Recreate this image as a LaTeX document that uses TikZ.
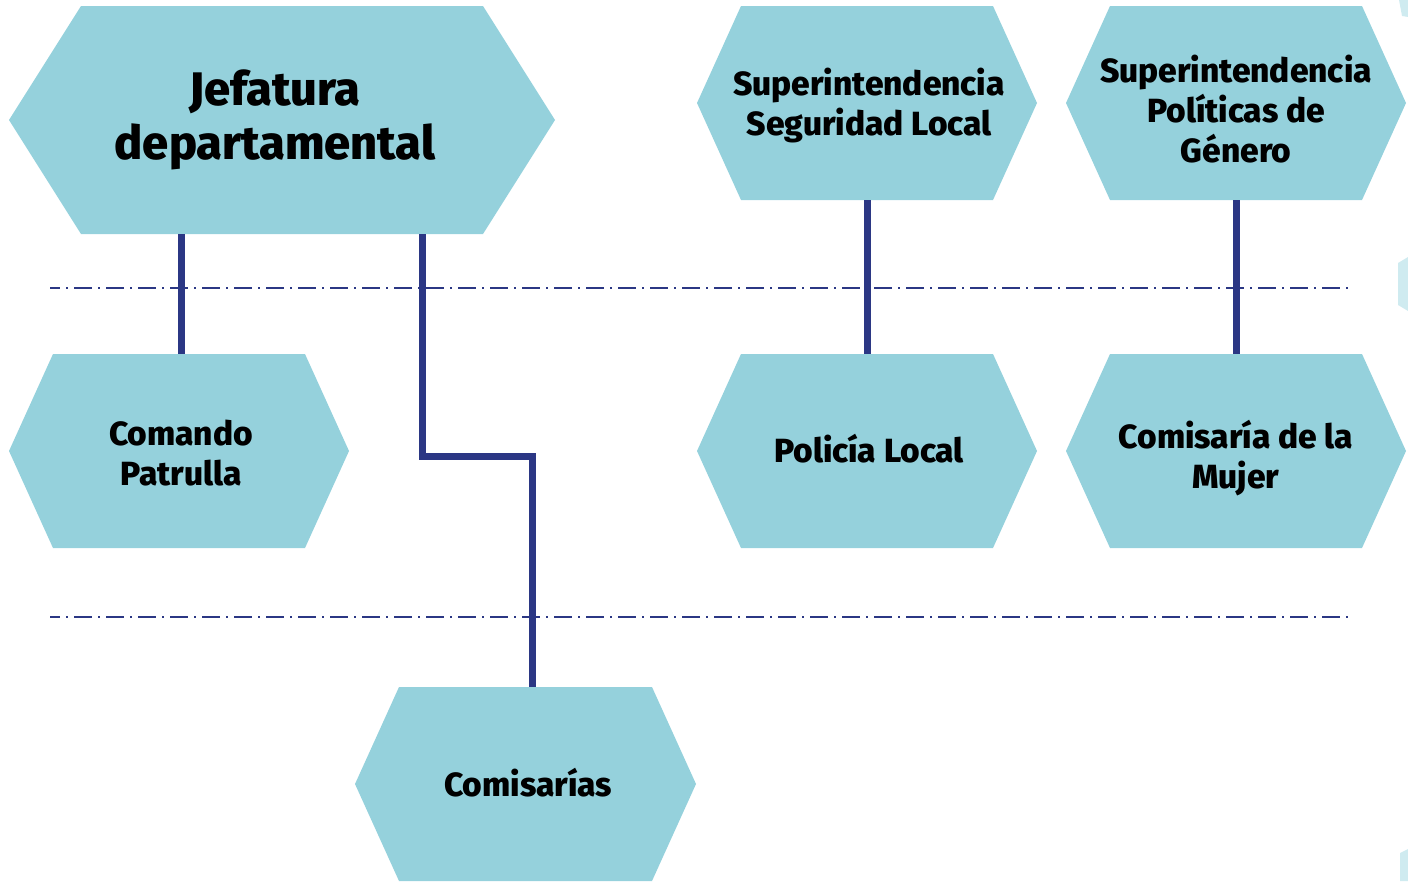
\documentclass[tikz,border=0pt]{standalone}
\usepackage{fontspec}
\setmainfont{Fira Sans}[BoldFont={Fira Sans ExtraBold}]
\definecolor{hexfill}{HTML}{95D1DC}
\definecolor{faint}{HTML}{CFEBF0}
\definecolor{navy}{HTML}{2B3784}
\tikzset{
  hexa/.style={draw=none, inner sep=0pt,
    path picture={\fill[hexfill]
      (path picture bounding box.west) --
      ([xshift=#1]path picture bounding box.north west) --
      ([xshift=-#1]path picture bounding box.north east) --
      (path picture bounding box.east) --
      ([xshift=-#1]path picture bounding box.south east) --
      ([xshift=#1]path picture bounding box.south west) -- cycle;}},
  small/.style={hexa=44pt, minimum width=340pt, minimum height=194pt},
  lbl/.style={inner sep=0pt, align=center, text=black,
    font=\bfseries\fontsize{33.5}{40}\selectfont},
  biglbl/.style={lbl, font=\bfseries\fontsize{47}{54}\selectfont},
  conn/.style={draw=navy, line width=7pt, line join=miter, line cap=butt},
  sepline/.style={draw=navy, line width=2pt, dash pattern=on 18pt off 6pt on 2pt off 6pt, dash phase=8pt}
}
\begin{document}
\begin{tikzpicture}[x=1pt,y=-1pt]
\useasboundingbox (0,0) rectangle (1408,881);
% faint shapes at right edge
\fill[faint] (1399,0) -- (1408,0) -- (1408,17) -- (1402,16) -- cycle;
\fill[faint] (1398,263) -- (1408,257) -- (1408,311) -- (1398,305) -- cycle;
\fill[faint] (1400,853) -- (1408,849) -- (1408,881) -- (1400,881) -- cycle;
% separators
\coordinate (s1a) at (50,288); \coordinate (s1b) at (1348,288);
\coordinate (s2a) at (50,617); \coordinate (s2b) at (1348,617);
\draw[sepline] (s1a) -- (s1b);
\draw[sepline] (s2a) -- (s2b);
% boxes
\node[hexa=72pt, minimum width=546pt, minimum height=228pt] (jef) at (282,120) {};
\node[small] (ssl) at (867,103) {};
\node[small] (spg) at (1236,103) {};
\node[small] (cp) at (179,451) {};
\node[small] (pl) at (867,451) {};
\node[small] (cm) at (1236,451) {};
\node[hexa=44pt, minimum width=341pt, minimum height=194pt] (com) at (525.5,784) {};
% labels
\node[biglbl] (jeft) at (275,120) {Jefatura\\departamental};
\node[lbl] (sslt) at (869,106) {Superintendencia\\Seguridad Local};
\node[lbl] (spgt) at (1236,109) {Superintendencia\\Políticas de\\Género};
\node[lbl] (cpt) at (181,453) {Comando\\Patrulla};
\node[lbl] (plt) at (869,449) {Policía Local};
\node[lbl] (cmt) at (1236,458) {Comisaría de la\\Mujer};
\node[lbl] (comt) at (528,783) {Comisarías};
% connectors
\coordinate (k1) at (422,456);
\draw[conn] ([xshift=2pt]cp.north) -- ([xshift=2pt]cp.north |- jef.south);
\draw[conn] (jef.south -| k1) -- (k1) -| ([xshift=6.5pt]com.north);
\draw[conn] (ssl.south) -- (pl.north);
\draw[conn] (spg.south) -- (cm.north);
\end{tikzpicture}
\end{document}
